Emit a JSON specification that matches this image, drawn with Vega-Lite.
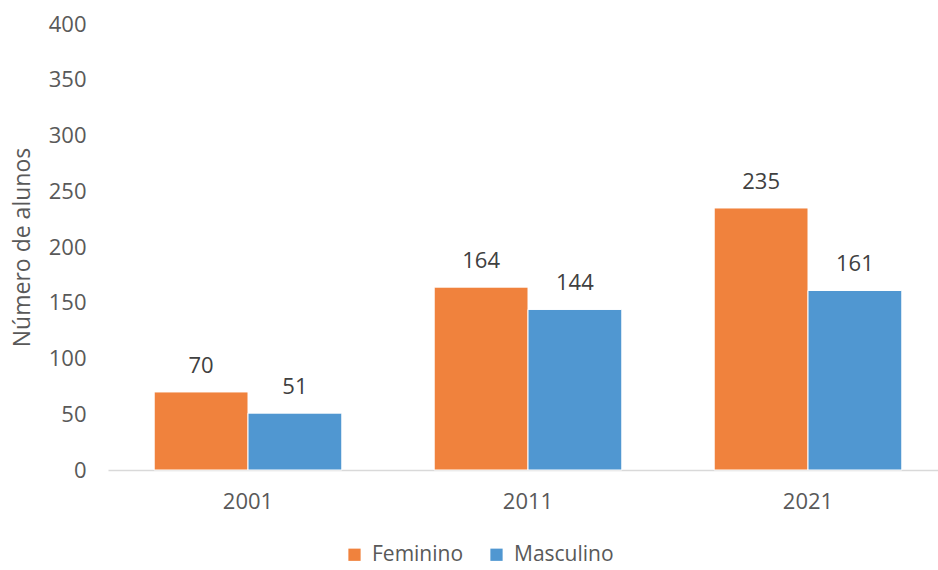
{
  "$schema": "https://vega.github.io/schema/vega-lite/v6.json",
  "autosize": "none",
  "width": 840,
  "height": 446,
  "padding": {"left": 108, "top": 24, "right": 0, "bottom": 100},
  "background": "white",
  "config": {
    "view": {"stroke": null},
    "font": "Open Sans",
    "text": {"font": "Open Sans"}
  },
  "data": {
    "values": [
      {"ano": "2001", "sexo": "Feminino", "alunos": 70},
      {"ano": "2001", "sexo": "Masculino", "alunos": 51},
      {"ano": "2011", "sexo": "Feminino", "alunos": 164},
      {"ano": "2011", "sexo": "Masculino", "alunos": 144},
      {"ano": "2021", "sexo": "Feminino", "alunos": 235},
      {"ano": "2021", "sexo": "Masculino", "alunos": 161}
    ]
  },
  "encoding": {
    "x": {
      "field": "ano",
      "type": "nominal",
      "scale": {"paddingInner": 0.33, "paddingOuter": 0.165},
      "axis": {
        "title": null,
        "labelAngle": 0,
        "labelFontSize": 22,
        "labelColor": "#595959",
        "labelPadding": 21,
        "ticks": false,
        "domainColor": "#D9D9D9",
        "domainWidth": 1.5
      }
    },
    "xOffset": {"field": "sexo", "type": "nominal", "scale": {"padding": 0}},
    "y": {
      "field": "alunos",
      "type": "quantitative",
      "scale": {"domain": [0, 400]},
      "axis": {
        "title": "Número de alunos",
        "titleFontSize": 23,
        "titleFontWeight": "normal",
        "titleColor": "#595959",
        "titlePadding": 14,
        "values": [0, 50, 100, 150, 200, 250, 300, 350, 400],
        "labelFontSize": 22,
        "labelColor": "#595959",
        "labelPadding": 22,
        "ticks": false,
        "domain": false,
        "grid": false
      }
    }
  },
  "layer": [
    {
      "mark": {"type": "bar", "stroke": "white", "strokeWidth": 1},
      "encoding": {
        "color": {
          "field": "sexo",
          "type": "nominal",
          "scale": {"domain": ["Feminino", "Masculino"], "range": ["#F0823D", "#5097D1"]},
          "legend": {
            "title": null,
            "orient": "none",
            "direction": "horizontal",
            "legendX": 236,
            "legendY": 520,
            "symbolType": "square",
            "symbolSize": 150,
            "symbolStrokeWidth": 0,
            "labelFontSize": 21,
            "labelColor": "#595959",
            "labelOffset": 7,
            "columnPadding": 22
          }
        }
      }
    },
    {
      "mark": {"type": "text", "baseline": "bottom", "dy": -14, "fontSize": 22, "color": "#404040"},
      "encoding": {"text": {"field": "alunos", "type": "quantitative"}}
    }
  ]
}
